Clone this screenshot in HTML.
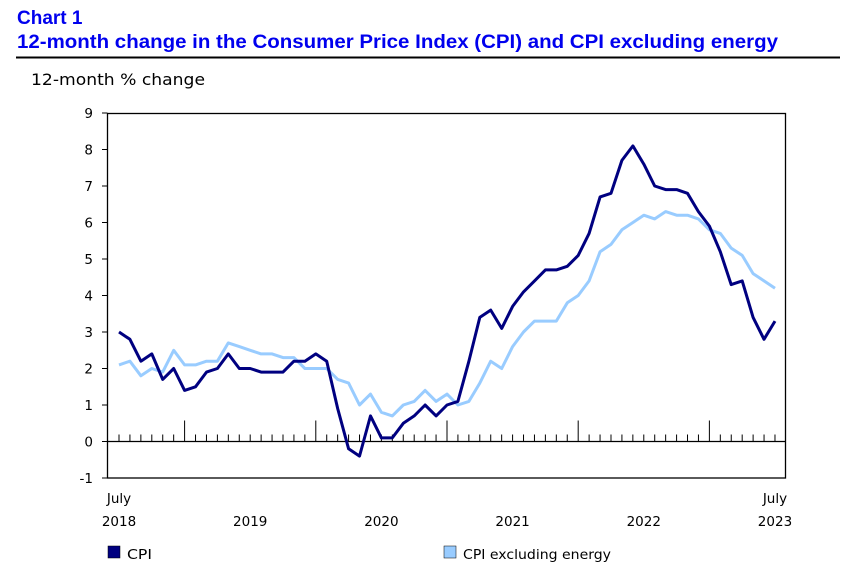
<!DOCTYPE html>
<html><head><meta charset="utf-8"><style>
html,body{margin:0;padding:0;background:#fff;}
svg{display:block;}
text{font-family:"DejaVu Sans","Liberation Sans",sans-serif;}
</style></head><body>
<svg id="chart" width="854" height="573" viewBox="0 0 854 573">
<text x="17" y="24" font-weight="bold" font-size="19" fill="#0000ee" style="font-family:'Liberation Sans',sans-serif">Chart 1</text>
<text x="17" y="48" font-weight="bold" font-size="19" fill="#0000ee" textLength="761" lengthAdjust="spacingAndGlyphs" style="font-family:'Liberation Sans',sans-serif">12-month change in the Consumer Price Index (CPI) and CPI excluding energy</text>
<line x1="16" y1="57.5" x2="840" y2="57.5" stroke="#000" stroke-width="2"/>
<text x="31" y="85" font-size="16" fill="#000" textLength="174" lengthAdjust="spacingAndGlyphs">12-month % change</text>
<rect x="107.5" y="113.5" width="678" height="364.5" fill="none" stroke="#000" stroke-width="1.3"/>
<g id="ygrid"></g><g id="xaxis"></g><g id="series"></g>
<g>
<rect x="108" y="546" width="12" height="12" fill="#000080" stroke="#000" stroke-width="0.5"/>
<text x="127" y="559" font-size="13.5" textLength="25" lengthAdjust="spacingAndGlyphs">CPI</text>
<rect x="444" y="546" width="12" height="12" fill="#99ccff" stroke="#000" stroke-width="0.5"/>
<text x="463" y="559" font-size="13.5" textLength="148" lengthAdjust="spacingAndGlyphs">CPI excluding energy</text>
</g>
</svg>
<script>
const yTicks=[-1,0,1,2,3,4,5,6,7,8,9];
const cpi=[3.0,2.8,2.2,2.4,1.7,2.0,1.4,1.5,1.9,2.0,2.4,2.0,2.0,1.9,1.9,1.9,2.2,2.2,2.4,2.2,0.9,-0.2,-0.4,0.7,0.1,0.1,0.5,0.7,1.0,0.7,1.0,1.1,2.2,3.4,3.6,3.1,3.7,4.1,4.4,4.7,4.7,4.8,5.1,5.7,6.7,6.8,7.7,8.1,7.6,7.0,6.9,6.9,6.8,6.3,5.9,5.2,4.3,4.4,3.4,2.8,3.3];
const exEnergy=[2.1,2.2,1.8,2.0,1.9,2.5,2.1,2.1,2.2,2.2,2.7,2.6,2.5,2.4,2.4,2.3,2.3,2.0,2.0,2.0,1.7,1.6,1.0,1.3,0.8,0.7,1.0,1.1,1.4,1.1,1.3,1.0,1.1,1.6,2.2,2.0,2.6,3.0,3.3,3.3,3.3,3.8,4.0,4.4,5.2,5.4,5.8,6.0,6.2,6.1,6.3,6.2,6.2,6.1,5.8,5.7,5.3,5.1,4.6,4.4,4.2];
const yearLabels=["2018","2019","2020","2021","2022","2023"];
const startMonth=6; // July (0-based)
const NS="http://www.w3.org/2000/svg";
function yS(v){return 441.5-(v)*36.5;}
function xS(i){return 119+i*10.933;}
function mk(tag,attrs,parent){const e=document.createElementNS(NS,tag);for(const k in attrs)e.setAttribute(k,attrs[k]);parent.appendChild(e);return e;}
const yg=document.getElementById('ygrid');
yTicks.forEach(v=>{
 const t=mk('line',{x1:102,x2:107.5,y1:yS(v),y2:yS(v),stroke:'#000','stroke-width':1},yg);
 
 
 const l=mk('text',{x:93,y:yS(v)+5,'font-size':13.5,'text-anchor':'end'},yg);
 l.textContent=String(v);
 
 
});
const xa=document.getElementById('xaxis');
const zl=mk('line',{x1:107.5,x2:785.5,y1:yS(0),y2:yS(0),stroke:'#000','stroke-width':1.3},xa);


for(let i=0;i<cpi.length;i++){
 const m=(startMonth+i)%12;
 const major=m===0;
 const t=mk('line',{x1:xS(i),x2:xS(i),y1:yS(0)-(major?21:7),y2:yS(0),stroke:'#000','stroke-width':1},xa);
 
 
}
yearLabels.forEach((yr,k)=>{
 let x,txt=yr;
 if(k===0){x=xS(0);}
 else if(k===yearLabels.length-1){x=xS(cpi.length-1);}
 else{const j=(12-startMonth)+(k-1)*12;x=(xS(j)+xS(j+12))/2;}
 if(k===0||k===yearLabels.length-1){
  const ml=mk('text',{x:x,y:503,'font-size':13.5,'text-anchor':'middle'},xa);
  ml.textContent='July';
  
  
 }
 const l=mk('text',{x:x,y:526,'font-size':13.5,'text-anchor':'middle'},xa);
 l.textContent=txt;
 
 
});
const sg=document.getElementById('series');
function drawLine(vals,color,name){
 const d=vals.map((v,i)=>(i?'L':'M')+xS(i).toFixed(1)+','+yS(v).toFixed(1)).join(' ');
 const p=mk('path',{d:d,fill:'none',stroke:color,'stroke-width':3,'stroke-linejoin':'round'},sg);
 
 
}
drawLine(exEnergy,'#99ccff','line-cpi-ex-energy');
drawLine(cpi,'#000080','line-cpi');
</script>
</body></html>
